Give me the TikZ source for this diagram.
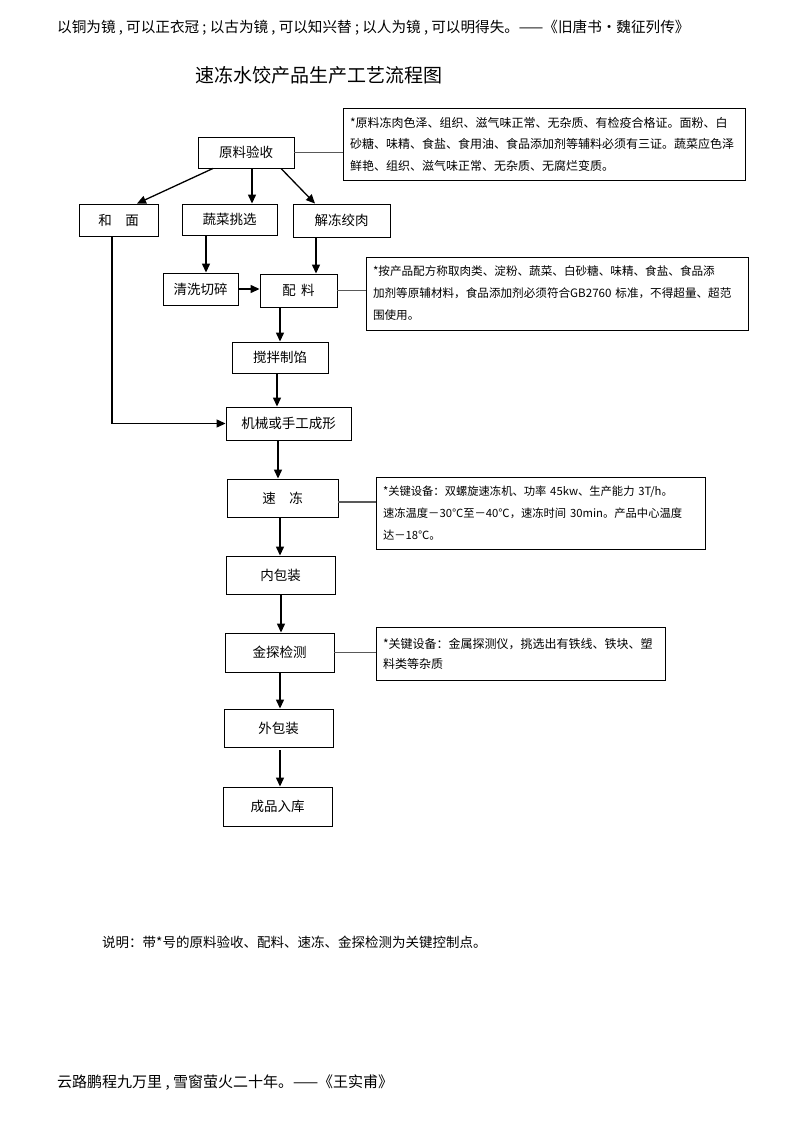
\documentclass[tikz,border=0pt]{standalone}
\usepackage{fontspec}
\setmainfont{Noto Sans CJK SC}
\usetikzlibrary{arrows.meta,shadows}
\tikzset{
  stepbox/.style={draw, line width=0.9pt, fill=white, inner sep=0pt, font=\fontsize{13.5}{16}\selectfont},
  notebox/.style={draw, line width=0.9pt, fill=white, inner xsep=7pt, inner ysep=0pt, align=left,
    font=\fontsize{12}{21.5}\selectfont,
    drop shadow={shadow xshift=1pt, shadow yshift=-1pt, opacity=1, fill=black}},
  flow/.style={line width=1.3pt, -{Triangle[length=9pt,width=8pt]}},
  link/.style={line width=1.1pt, gray!70!black},
  plain/.style={inner sep=0pt},
}

\begin{document}
\begin{tikzpicture}[x=1pt,y=-1pt]
  \useasboundingbox (0,0) rectangle (793,1122);

  %% --- page texts ---
  \node[plain, anchor=west, font=\fontsize{14.6}{18}\selectfont] (header) at (57,28)
    {以铜为镜 , 可以正衣冠 ; 以古为镜 , 可以知兴替 ; 以人为镜 , 可以明得失。——《旧唐书·魏征列传》};
  \node[plain, font=\fontsize{19}{22}\selectfont] (title) at (318.5,75) {速冻水饺产品生产工艺流程图};

  %% --- raw material ---
  \node[stepbox, minimum width=96pt, minimum height=31pt] (yl) at (246,152.5) {原料验收};
  \node[stepbox, minimum width=79pt, minimum height=32pt] (hm) at (118.5,220) {和\hspace{1em}面};
  \node[stepbox, minimum width=95pt, minimum height=31pt] (sc) at (229.5,219.5) {蔬菜挑选};
  \node[stepbox, minimum width=97pt, minimum height=33pt] (jd) at (341.5,220.5) {解冻绞肉};
  \node[stepbox, minimum width=75pt, minimum height=32pt] (qx) at (200.5,289) {清洗切碎};
  \node[stepbox, minimum width=77pt, minimum height=33pt] (pl) at (298.5,290.5) {配\hspace{0.4em}料};

  %% --- main line ---
  \node[stepbox, minimum width=96pt, minimum height=31pt] (jb) at (280,357.5) {搅拌制馅};
  \node[stepbox, minimum width=125pt, minimum height=33pt] (cx) at (288.5,423.5) {机械或手工成形};
  \node[stepbox, minimum width=111pt, minimum height=38pt] (sd) at (282.5,498) {速\hspace{1em}冻};
  \node[stepbox, minimum width=109pt, minimum height=38pt] (nb) at (280.5,575) {内包装};
  \node[stepbox, minimum width=109pt, minimum height=39pt] (jt) at (279.5,652.5) {金探检测};
  \node[stepbox, minimum width=109pt, minimum height=38pt] (wb) at (278.5,728) {外包装};
  \node[stepbox, minimum width=109pt, minimum height=39pt] (rk) at (277.5,806.5) {成品入库};

  %% --- notes ---
  \node[notebox, text width=388pt, minimum height=72pt] (n1) at (544,144)
    {*原料冻肉色泽、组织、滋气味正常、无杂质、有检疫合格证。面粉、白\\
     砂糖、味精、食盐、食用油、食品添加剂等辅料必须有三证。蔬菜应色泽\\
     鲜艳、组织、滋气味正常、无杂质、无腐烂变质。};
  \node[notebox, font=\fontsize{11.6}{22}\selectfont, text width=368pt, minimum height=73pt] (n2) at (557,293.5)
    {*按产品配方称取肉类、淀粉、蔬菜、白砂糖、味精、食盐、食品添\\
     加剂等原辅材料，食品添加剂必须符合GB2760~标准，不得超量、超范\\
     围使用。};
  \node[notebox, font=\fontsize{11.3}{22}\selectfont, text width=315pt, minimum height=72pt] (n3) at (540.5,513)
    {*关键设备：双螺旋速冻机、功率~45kw、生产能力~3T/h。\\
     速冻温度－30℃至－40℃，速冻时间~30min。产品中心温度\\
     达－18℃。};
  \node[notebox, font=\fontsize{12}{20}\selectfont, text width=275pt, minimum height=53pt] (n4) at (520.5,653.5)
    {*关键设备：金属探测仪，挑选出有铁线、铁块、塑\\
     料类等杂质};

  %% --- arrows ---
  \draw[flow] ([xshift=-33pt]yl.south) -- ([xshift=18.5pt]hm.north);
  \draw[flow] ([xshift=6pt]yl.south) -- ([xshift=6pt]yl.south |- sc.north);
  \draw[flow] ([xshift=35pt]yl.south) -- ([xshift=-26.5pt]jd.north);
  \draw[flow] ([xshift=-23.5pt]sc.south) -- ([xshift=-23.5pt]sc.south |- qx.north);
  \draw[flow] ([xshift=-25.5pt]jd.south) -- ([xshift=-25.5pt]jd.south |- pl.north);
  \draw[flow] (qx.east) -- (qx.east -| pl.west);
  \draw[flow] (pl.south -| jb.north) -- (jb.north);
  \draw[flow] ([xshift=-3pt]jb.south) -- ([xshift=-3pt]jb.south |- cx.north);
  \draw[flow] ([xshift=-10.5pt]cx.south) -- ([xshift=-10.5pt]cx.south |- sd.north);
  \draw[flow] ([xshift=-2.5pt]sd.south) -- ([xshift=-2.5pt]sd.south |- nb.north);
  \draw[flow] ([xshift=0.5pt]nb.south) -- ([xshift=0.5pt]nb.south |- jt.north);
  \draw[flow] ([xshift=0.5pt]jt.south) -- ([xshift=0.5pt]jt.south |- wb.north);
  \draw[flow] ([xshift=1.5pt,yshift=-3pt]wb.south) -- ([xshift=1.5pt]wb.south |- rk.north);
  \draw[flow] ([xshift=-6.5pt]hm.south) |- (cx.west);

  % links to the notes
  \draw[link] (yl.east) -- (yl.east -| n1.west);
  \draw[link] (pl.east) -- (pl.east -| n2.west);
  \draw[link] ([yshift=-4pt]sd.east) -- ([yshift=-4pt]sd.east -| n3.west);
  \draw[link] (jt.east) -- (jt.east -| n4.west);

  %% --- remarks ---
  \node[plain, anchor=west, font=\fontsize{13.5}{16}\selectfont] (remark) at (102,942)
    {说明：带*号的原料验收、配料、速冻、金探检测为关键控制点。};
  \node[plain, anchor=west, font=\fontsize{15}{18}\selectfont] (footer) at (57,1083)
    {云路鹏程九万里 , 雪窗萤火二十年。——《王实甫》};
\end{tikzpicture}
\end{document}
